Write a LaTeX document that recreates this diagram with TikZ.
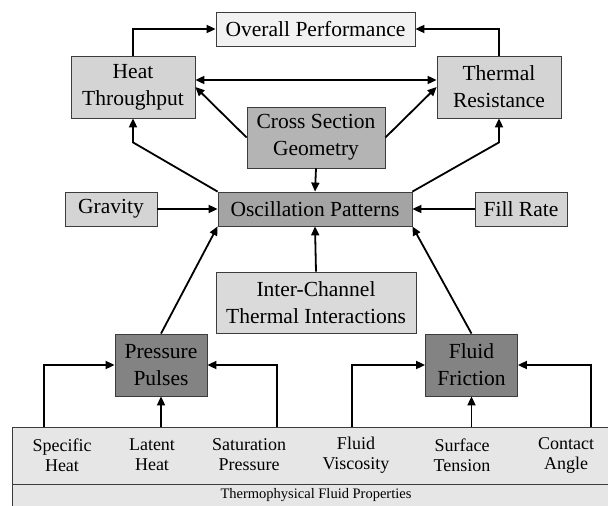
\documentclass[tikz,border=0pt]{standalone}
\usepackage{fontspec}
\setmainfont{Liberation Serif}
\usetikzlibrary{arrows.meta,calc}
\definecolor{lite}{HTML}{F2F2F2}
\definecolor{pale}{HTML}{D4D4D4}
\definecolor{mid}{HTML}{B4B4B4}
\definecolor{core}{HTML}{A4A4A4}
\definecolor{dark}{HTML}{838383}
\definecolor{edge}{HTML}{3C3C3C}
\definecolor{base}{HTML}{E6E6E6}
\newcommand{\bigtxt}{\fontsize{21.5}{27}\selectfont}
\newcommand{\midtxt}{\fontsize{18}{20}\selectfont}
\newcommand{\smtxt}{\fontsize{14.5}{17}\selectfont}

\begin{document}
\begin{tikzpicture}[x=1pt,y=-1pt,
  blk/.style={draw=edge,line width=0.8pt,inner sep=0pt,align=center,font=\bigtxt},
  arr/.style={-{Triangle[length=9pt,width=8pt]},line width=1.8pt},
  arr2/.style={{Triangle[length=9pt,width=8pt]}-{Triangle[length=9pt,width=8pt]},line width=1.8pt}]
\useasboundingbox (0,0) rectangle (608,506);
% top level
\node[blk,fill=lite,minimum width=199pt,minimum height=34pt] (op) at (315.5,29) {Overall Performance};
\node[blk,fill=pale,minimum width=124pt,minimum height=62pt] (ht) at (133,87) {Heat\\Throughput};
\node[blk,fill=pale,minimum width=124pt,minimum height=62pt] (tr) at (499,87) {Thermal\\Resistance};
\node[blk,fill=mid,minimum width=138pt,minimum height=61pt] (csg) at (316,137.5) {Cross Section\\Geometry};
% middle row
\node[blk,fill=core,minimum width=194pt,minimum height=34pt] (osc) at (315,209) {Oscillation Patterns};
\node[blk,fill=pale,minimum width=92pt,minimum height=34pt] (grav) at (111,209) {Gravity};
\node[blk,fill=pale,minimum width=92pt,minimum height=34pt] (fill) at (521,209) {Fill Rate};
\node[blk,fill=pale!85!white,minimum width=200pt,minimum height=61pt] (ic) at (316,302.5) {Inter-Channel\\Thermal Interactions};
\node[blk,fill=dark,minimum width=92pt,minimum height=62pt] (pp) at (161,365) {Pressure\\Pulses};
\node[blk,fill=dark,minimum width=92pt,minimum height=62pt] (ff) at (471.5,365) {Fluid\\Friction};
% fluid properties
\node[blk,fill=base,minimum width=608pt,minimum height=57pt] (props) at (316,455.5) {};
\node[blk,fill=base,minimum width=608pt,minimum height=31pt] (thermo) at (316,499.5) {};
\node[font=\smtxt] (tlabel) at (316,495) {Thermophysical Fluid Properties};
\node[font=\midtxt,align=center] (spec) at (62,455) {Specific\\Heat};
\node[font=\midtxt,align=center] (lat) at (152,455) {Latent\\Heat};
\node[font=\midtxt,align=center] (sat) at (249,455) {Saturation\\Pressure};
\node[font=\midtxt,align=center] (visc) at (356,455) {Fluid\\Viscosity};
\node[font=\midtxt,align=center] (surf) at (462,455) {Surface\\Tension};
\node[font=\midtxt,align=center] (cang) at (566,455) {Contact\\Angle};
\coordinate (specout) at (44,427);
\coordinate (latout) at (161,427);
\coordinate (satout) at (277,427);
\coordinate (viscout) at (352,427);
\coordinate (surfout) at (471.5,427);
\coordinate (cangout) at (591,427);
% connectors
\draw[arr] (ht.north) |- (op.west);
\draw[arr] (tr.north) |- (op.east);
\draw[arr2] ([yshift=7pt]ht.east) -- ([yshift=7pt]tr.west);
\draw[arr] (csg.west) -- (ht.east);
\draw[arr] (csg.east) -- (tr.west);
\draw[arr] (csg.south) -- (osc.north);
\draw[arr] (osc.north west) -- ($(ht.south)+(0,24)$) -- (ht.south);
\draw[arr] (osc.north east) -- ($(tr.south)+(0,24)$) -- (tr.south);
\draw[arr] (grav.east) -- (osc.west);
\draw[arr] (fill.west) -- (osc.east);
\draw[arr] (ic.north) -- (osc.south);
\draw[arr] (pp.north) -- (osc.south west);
\draw[arr] (ff.north) -- (osc.south east);
\draw[arr] (specout) |- (pp.west);
\draw[arr] (latout) -- (pp.south);
\draw[arr] (satout) |- (pp.east);
\draw[arr] (viscout) |- (ff.west);
\draw[arr] (surfout) -- (ff.south);
\draw[arr] (cangout) |- (ff.east);
\end{tikzpicture}
\end{document}
